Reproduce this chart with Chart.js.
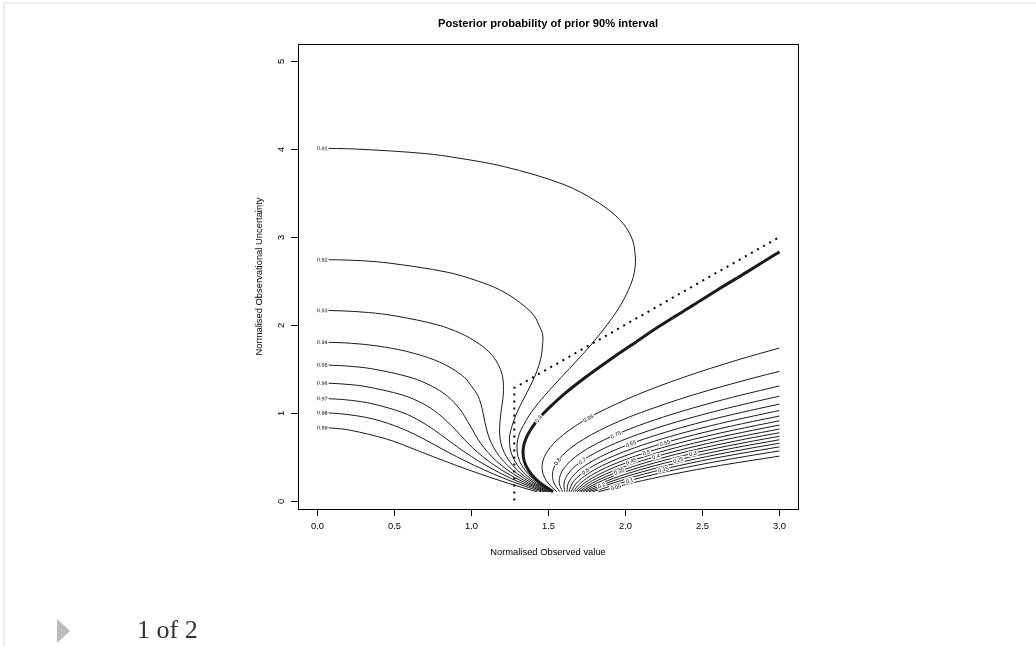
<!DOCTYPE html>
<html>
<head>
<meta charset="utf-8">
<title>Posterior probability of prior 90% interval</title>
<script src="https://cdn.jsdelivr.net/npm/chart.js@4.4.1/dist/chart.umd.min.js"></script>
<style>
  body { margin: 0; background: #fff; width: 1036px; height: 646px; overflow: hidden; position: relative; }
  #plot { position: absolute; left: 0; top: 0; }
  .edgeTop { position: absolute; left: 4px; top: 2px; right: 0; height: 2px; background: #ececec; }
  .edgeLeft { position: absolute; left: 3px; top: 2px; bottom: 0; width: 2px; background: #ececec; }
  .arrow { position: absolute; left: 57px; top: 619px; width: 0; height: 0;
           border-top: 12px solid transparent; border-bottom: 12px solid transparent; border-left: 13px solid #bbb; }
  .pager { position: absolute; left: 137px; top: 617px; font: 26px/26px "Liberation Serif", "DejaVu Serif", serif; color: #333; }
</style>
</head>
<body>
<div class="edgeTop"></div>
<div class="edgeLeft"></div>
<canvas id="plot" width="1036" height="646"></canvas>
<div class="arrow"></div>
<div class="pager">1 of 2</div>
<script>
// axis ticks
var xTicks = [0, 0.5, 1, 1.5, 2, 2.5, 3];
var xTickLabels = ['0.0', '0.5', '1.0', '1.5', '2.0', '2.5', '3.0'];
var yTicks = [0, 1, 2, 3, 4, 5];
var yTickLabels = ['0', '1', '2', '3', '4', '5'];

// contour lines, [observed value, uncertainty]
var contour099 = [[0,0.83],[0.1,0.825],[0.22,0.8],[0.455,0.7],[0.61,0.6],[0.756,0.5],[0.906,0.4],[1.065,0.3],[1.236,0.2],[1.428,0.1]];
var contour098 = [[0,1.0],[0.1,0.995],[0.197,0.98],[0.31,0.95],[0.426,0.9],[0.579,0.8],[0.696,0.7],[0.8,0.6],[0.908,0.5],[1.023,0.4],[1.15,0.3],[1.292,0.2],[1.455,0.1]];
var contour097 = [[0,1.162],[0.1,1.158],[0.226,1.14],[0.366,1.1],[0.56,1.0],[0.677,0.9],[0.765,0.8],[0.844,0.7],[0.921,0.6],[1.005,0.5],[1.098,0.4],[1.204,0.3],[1.327,0.2],[1.473,0.1]];
var contour096 = [[0,1.338],[0.1,1.334],[0.216,1.32],[0.312,1.3],[0.559,1.2],[0.693,1.1],[0.781,1.0],[0.846,0.9],[0.904,0.8],[0.955,0.7],[1.012,0.6],[1.077,0.5],[1.154,0.4],[1.245,0.3],[1.354,0.2],[1.486,0.1]];
var contour095 = [[0,1.544],[0.1,1.54],[0.203,1.53],[0.358,1.5],[0.612,1.4],[0.75,1.3],[0.84,1.2],[0.9,1.1],[0.945,1.0],[0.979,0.9],[1.013,0.8],[1.045,0.7],[1.086,0.6],[1.136,0.5],[1.199,0.4],[1.278,0.3],[1.375,0.2],[1.496,0.1]];
var contour094 = [[0,1.803],[0.1,1.8],[0.226,1.79],[0.392,1.76],[0.578,1.7],[0.765,1.6],[0.88,1.5],[0.959,1.4],[1.005,1.3],[1.044,1.2],[1.065,1.1],[1.079,1.0],[1.09,0.9],[1.104,0.8],[1.122,0.7],[1.149,0.6],[1.187,0.5],[1.238,0.4],[1.306,0.3],[1.394,0.2],[1.505,0.1]];
var contour093 = [[0,2.165],[0.15,2.16],[0.337,2.14],[0.515,2.1],[0.783,2.0],[0.938,1.9],[1.04,1.8],[1.113,1.7],[1.161,1.6],[1.19,1.5],[1.207,1.4],[1.211,1.3],[1.21,1.2],[1.203,1.1],[1.195,1.0],[1.189,0.9],[1.186,0.8],[1.19,0.7],[1.204,0.6],[1.231,0.5],[1.272,0.4],[1.331,0.3],[1.41,0.2],[1.513,0.1]];
var contour092 = [[0,2.742],[0.13,2.74],[0.29,2.73],[0.482,2.7],[0.844,2.6],[1.043,2.5],[1.186,2.4],[1.281,2.3],[1.356,2.2],[1.412,2.1],[1.44,2.0],[1.464,1.9],[1.466,1.8],[1.451,1.6],[1.411,1.4],[1.355,1.2],[1.298,1.0],[1.259,0.8],[1.25,0.7],[1.254,0.6],[1.271,0.5],[1.303,0.4],[1.353,0.3],[1.424,0.2],[1.52,0.1]];
var contour091 = [[0,4.01],[0.26,4.0],[0.698,3.95],[0.912,3.9],[1.217,3.8],[1.598,3.6],[1.818,3.4],[1.963,3.2],[2.04,3.0],[2.065,2.8],[2.06,2.6],[2.022,2.4],[1.962,2.2],[1.883,2.0],[1.792,1.8],[1.691,1.6],[1.584,1.4],[1.481,1.2],[1.39,1.0],[1.324,0.8],[1.305,0.7],[1.299,0.6],[1.306,0.5],[1.33,0.4],[1.373,0.3],[1.437,0.2],[1.527,0.1]];
var contour090 = [[1.533,0.1],[1.449,0.2],[1.392,0.3],[1.356,0.4],[1.34,0.5],[1.34,0.6],[1.356,0.7],[1.385,0.8],[1.425,0.9],[1.475,1.0],[1.597,1.2],[1.741,1.4],[1.899,1.6],[2.066,1.8],[2.236,2.0],[2.419,2.2],[2.6,2.4],[2.788,2.6],[2.972,2.8],[3.0,2.83]];
var contour085 = [[1.557,0.1],[1.5,0.2],[1.469,0.3],[1.462,0.4],[1.477,0.5],[1.512,0.6],[1.566,0.7],[1.637,0.8],[1.723,0.9],[1.825,1.0],[2.072,1.2],[2.374,1.4],[2.728,1.6],[3.0,1.736]];
var contour080 = [[1.577,0.1],[1.539,0.2],[1.529,0.3],[1.545,0.4],[1.585,0.5],[1.648,0.6],[1.732,0.7],[1.835,0.8],[1.958,0.9],[2.099,1.0],[2.436,1.2],[2.841,1.4],[3.0,1.47]];
var contour075 = [[1.594,0.1],[1.573,0.2],[1.582,0.3],[1.618,0.4],[1.679,0.5],[1.765,0.6],[1.875,0.7],[2.008,0.8],[2.161,0.9],[2.337,1.0],[2.533,1.1],[2.751,1.2],[3.0,1.305]];
var contour070 = [[1.609,0.1],[1.604,0.2],[1.629,0.3],[1.682,0.4],[1.763,0.5],[1.87,0.6],[2.003,0.7],[2.161,0.8],[2.343,0.9],[2.549,1.0],[2.779,1.1],[3.0,1.188]];
var contour065 = [[1.623,0.1],[1.632,0.2],[1.672,0.3],[1.742,0.4],[1.841,0.5],[1.968,0.6],[2.122,0.7],[2.304,0.8],[2.511,0.9],[2.746,1.0],[3.0,1.098]];
var contour060 = [[1.636,0.1],[1.659,0.2],[1.714,0.3],[1.799,0.4],[1.915,0.5],[2.06,0.6],[2.235,0.7],[2.439,0.8],[2.671,0.9],[2.932,1.0],[3.0,1.024]];
var contour055 = [[1.649,0.1],[1.685,0.2],[1.754,0.3],[1.854,0.4],[1.986,0.5],[2.149,0.6],[2.343,0.7],[2.569,0.8],[2.826,0.9],[3.0,0.962]];
var contour050 = [[1.662,0.1],[1.711,0.2],[1.793,0.3],[1.908,0.4],[2.056,0.5],[2.237,0.6],[2.451,0.7],[2.698,0.8],[3.0,0.908]];
var contour045 = [[1.674,0.1],[1.737,0.2],[1.833,0.3],[1.962,0.4],[2.126,0.5],[2.325,0.6],[2.559,0.7],[2.827,0.8],[3.0,0.859]];
var contour040 = [[1.687,0.1],[1.762,0.2],[1.872,0.3],[2.017,0.4],[2.197,0.5],[2.414,0.6],[2.667,0.7],[2.957,0.8],[3.0,0.814]];
var contour035 = [[1.7,0.1],[1.789,0.2],[1.914,0.3],[2.074,0.4],[2.271,0.5],[2.506,0.6],[2.78,0.7],[3.0,0.772]];
var contour030 = [[1.714,0.1],[1.818,0.2],[1.957,0.3],[2.134,0.4],[2.349,0.5],[2.604,0.6],[2.899,0.7],[3.0,0.731]];
var contour025 = [[1.729,0.1],[1.848,0.2],[2.004,0.3],[2.198,0.4],[2.433,0.5],[2.709,0.6],[3.0,0.692]];
var contour020 = [[1.746,0.1],[1.883,0.2],[2.057,0.3],[2.271,0.4],[2.527,0.5],[2.826,0.6],[3.0,0.652]];
var contour015 = [[1.766,0.1],[1.922,0.2],[2.118,0.3],[2.354,0.4],[2.635,0.5],[2.962,0.6],[3.0,0.611]];
var contour010 = [[1.79,0.1],[1.972,0.2],[2.194,0.3],[2.46,0.4],[2.772,0.5],[3.0,0.565]];
var contour005 = [[1.827,0.1],[2.046,0.2],[2.308,0.3],[2.617,0.4],[3.0,0.506]];

// prior 90% bound drawn dotted
var priorBound = [[1.2816,0],[1.2816,1.2816],[3.0,3.0]];

var levelNames = ['0.99','0.98','0.97','0.96','0.95','0.94','0.93','0.92','0.91','0.9','0.85','0.8','0.75','0.7','0.65','0.6','0.55','0.5','0.45','0.4','0.35','0.3','0.25','0.2','0.15','0.1','0.05'];
var levelLines = [contour099, contour098, contour097, contour096, contour095, contour094, contour093, contour092, contour091,
                  contour090, contour085, contour080, contour075, contour070, contour065, contour060, contour055, contour050,
                  contour045, contour040, contour035, contour030, contour025, contour020, contour015, contour010, contour005];

// where each label sits on its line (labels on the left group go at the start)
var labelSpots = {
  '0.9': [1.44, 0.93], '0.85': [1.77, 0.91], '0.8': [1.564, 0.44], '0.75': [1.943, 0.73],
  '0.7': [1.726, 0.44], '0.65': [2.041, 0.626], '0.6': [1.744, 0.33], '0.55': [2.26, 0.636],
  '0.5': [2.136, 0.55], '0.45': [2.041, 0.44], '0.4': [2.2, 0.5], '0.35': [1.965, 0.31],
  '0.3': [2.445, 0.49], '0.25': [2.347, 0.437], '0.2': [1.85, 0.16], '0.15': [2.25, 0.33],
  '0.1': [2.03, 0.21], '0.05': [1.943, 0.13]
};

var FONT = '"Liberation Sans", Arial, Helvetica, sans-serif';

var datasets = levelLines.map(function (pts, i) {
  return {
    label: levelNames[i],
    data: pts.map(function (p) { return {x: p[0], y: p[1]}; }),
    borderColor: '#1a1a1a',
    borderWidth: levelNames[i] === '0.9' ? 3 : 1,
    showLine: true,
    pointRadius: 0,
    tension: 0.35,
    fill: false
  };
});
datasets.unshift({
  label: 'bound',
  data: priorBound.map(function (p) { return {x: p[0], y: p[1]}; }),
  borderColor: '#000',
  borderWidth: 2,
  borderDash: [2, 5],
  showLine: true,
  pointRadius: 0,
  tension: 0,
  fill: false
});

function nearestOnLine(pts, px, py) {
  var best = null;
  for (var i = 0; i < pts.length - 1; i++) {
    var a = pts[i], b = pts[i + 1];
    var dx = b.x - a.x, dy = b.y - a.y;
    var len2 = dx * dx + dy * dy || 1;
    var t = ((px - a.x) * dx + (py - a.y) * dy) / len2;
    t = Math.max(0, Math.min(1, t));
    var qx = a.x + t * dx, qy = a.y + t * dy;
    var d = (qx - px) * (qx - px) + (qy - py) * (qy - py);
    if (!best || d < best.d) best = {x: qx, y: qy, d: d, ang: Math.atan2(dy, dx)};
  }
  return best;
}

var rAxes = {
  id: 'rAxes',
  afterDatasetsDraw: function (chart) {
    var ctx = chart.ctx, xs = chart.scales.x, ys = chart.scales.y;
    // contour labels, line broken underneath
    ctx.save();
    ctx.font = '5.5px ' + FONT;
    ctx.textAlign = 'center';
    ctx.textBaseline = 'middle';
    chart.data.datasets.forEach(function (ds, i) {
      var name = ds.label;
      if (name === 'bound') return;
      var spot = labelSpots[name];
      var src = levelLines[levelNames.indexOf(name)];
      if (!spot) spot = [src[0][0] + 0.037, src[0][1]];
      var pts = chart.getDatasetMeta(i).data;
      var hit = nearestOnLine(pts, xs.getPixelForValue(spot[0]), ys.getPixelForValue(spot[1]));
      var ang = hit.ang;
      if (ang > Math.PI / 2) ang -= Math.PI;
      if (ang < -Math.PI / 2) ang += Math.PI;
      var w = ctx.measureText(name).width + 2;
      ctx.save();
      ctx.translate(hit.x, hit.y);
      ctx.rotate(ang);
      ctx.fillStyle = '#fff';
      ctx.fillRect(-w / 2, -3, w, 6);
      ctx.fillStyle = '#000';
      ctx.fillText(name, 0, 0.3);
      ctx.restore();
    });
    ctx.restore();
  },
  afterDraw: function (chart) {
    var ctx = chart.ctx, a = chart.chartArea, xs = chart.scales.x, ys = chart.scales.y;
    ctx.save();
    ctx.strokeStyle = '#000';
    ctx.lineWidth = 1;
    ctx.strokeRect(Math.round(a.left) + 0.5, Math.round(a.top) + 0.5, Math.round(a.right - a.left), Math.round(a.bottom - a.top));

    ctx.fillStyle = '#000';
    ctx.font = '9.4px ' + FONT;
    ctx.textAlign = 'center';
    ctx.textBaseline = 'middle';
    // x axis
    ctx.beginPath();
    xTicks.forEach(function (v, i) {
      var px = Math.round(xs.getPixelForValue(v)) + 0.5;
      ctx.moveTo(px, a.bottom);
      ctx.lineTo(px, a.bottom + 7);
      ctx.fillText(xTickLabels[i], px, a.bottom + 17);
    });
    ctx.stroke();
    // y axis, labels parallel to the axis
    ctx.beginPath();
    yTicks.forEach(function (v, i) {
      var py = Math.round(ys.getPixelForValue(v)) + 0.5;
      ctx.moveTo(a.left, py);
      ctx.lineTo(a.left - 7, py);
      ctx.save();
      ctx.translate(a.left - 17, py);
      ctx.rotate(-Math.PI / 2);
      ctx.fillText(yTickLabels[i], 0, 0);
      ctx.restore();
    });
    ctx.stroke();

    var cx = (a.left + a.right) / 2, cy = (a.top + a.bottom) / 2;
    ctx.fillText('Normalised Observed value', cx, a.bottom + 43);
    ctx.save();
    ctx.translate(a.left - 39, cy);
    ctx.rotate(-Math.PI / 2);
    ctx.fillText('Normalised Observational Uncertainty', 0, 0);
    ctx.restore();

    ctx.font = 'bold 11.2px ' + FONT;
    ctx.fillText('Posterior probability of prior 90% interval', cx, 24);
    ctx.restore();
  }
};

var chart = new Chart(document.getElementById('plot').getContext('2d'), {
  type: 'scatter',
  data: {datasets: datasets},
  options: {
    responsive: false,
    animation: false,
    events: [],
    layout: {padding: {left: 0, top: 44, right: 238, bottom: 0}},
    plugins: {legend: {display: false}, tooltip: {enabled: false}, title: {display: false}},
    scales: {
      x: {
        type: 'linear', min: -0.12, max: 3.12,
        grid: {display: false}, border: {display: false}, ticks: {display: false},
        afterFit: function (s) { s.height = 137; }
      },
      y: {
        type: 'linear', min: -0.096, max: 5.196,
        grid: {display: false}, border: {display: false}, ticks: {display: false},
        afterFit: function (s) { s.width = 298; }
      }
    }
  },
  plugins: [rAxes]
});
</script>
</body>
</html>
